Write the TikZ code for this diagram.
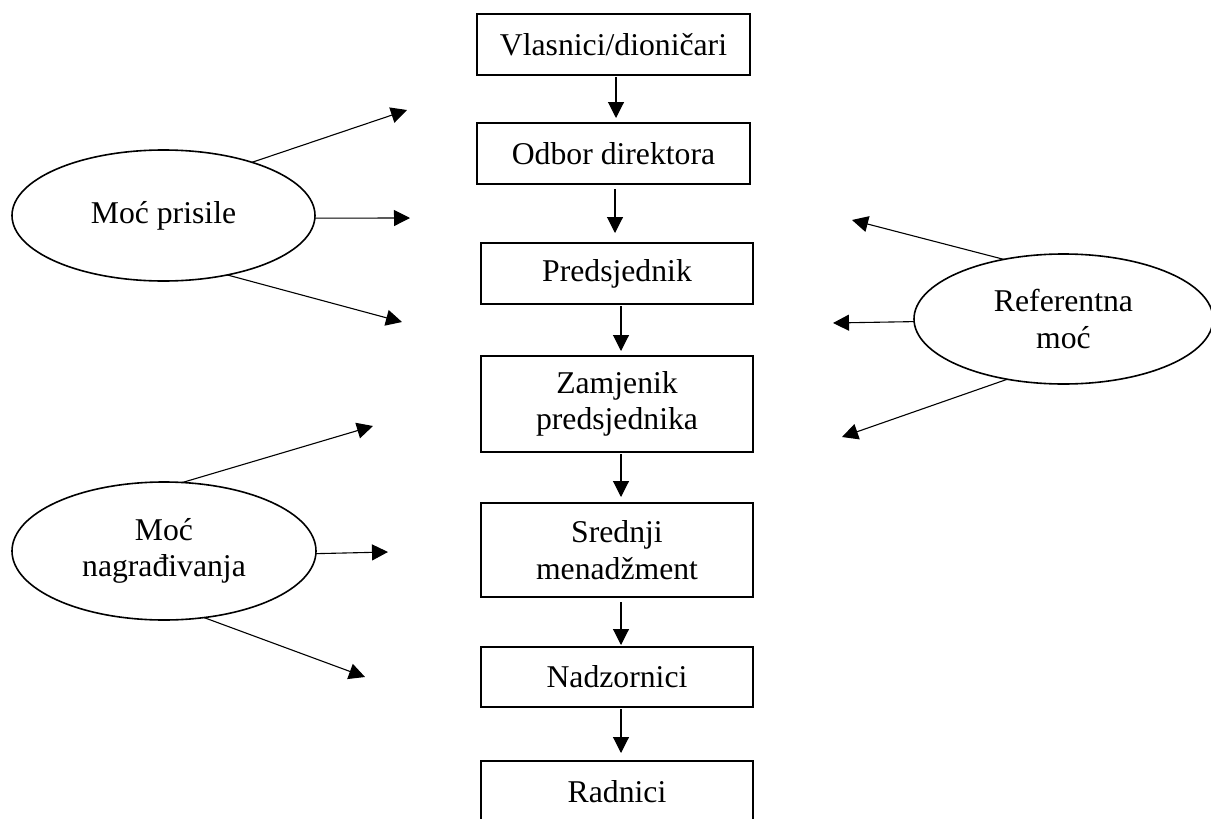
\documentclass[tikz,border=0pt]{standalone}
\usepackage{fontspec}
\setmainfont{Liberation Serif}
\usetikzlibrary{arrows.meta,shapes.geometric}
\tikzset{
  box/.style={draw,line width=1.1pt,rectangle,minimum width=272pt,inner sep=0pt,outer sep=0pt,align=center,
    font=\fontsize{31.7}{36.5}\selectfont},
  oval/.style={draw,line width=1.6pt,ellipse,inner sep=0pt,outer sep=0pt,align=center,
    font=\fontsize{31.7}{36.5}\selectfont},
  arr/.style={line width=1.1pt,-{Triangle[length=16pt,width=16pt]}}
}
\begin{document}
\begin{tikzpicture}[x=1pt,y=-1pt]
\useasboundingbox (0,0) rectangle (1211,819);
\clip (0,0) rectangle (1211,819);
% boxes
\node[box,minimum width=273pt,minimum height=61pt] (b1) at (613.5,44.5) {Vlasnici/dioničari};
\node[box,minimum width=273pt,minimum height=61pt] (b2) at (613.5,153.5) {Odbor direktora};
\node[box,minimum height=61pt] (b3) at (617,273.5) {Predsjednik};
\node[box,minimum height=96pt] (b4) at (617,404) {Zamjenik\\predsjednika};
\node[box,minimum height=94pt] (b5) at (617,550) {Srednji\\menadžment};
\node[box,minimum height=60pt] (b6) at (617,677) {Nadzornici};
\node[box,minimum height=61pt] (b7) at (617,791.5) {Radnici};
% vertical arrows
\draw[arr] ([xshift=2.5pt,yshift=-2pt]b1.south) -- ([xshift=2.5pt,yshift=5pt]b2.north);
\draw[arr] ([xshift=1.5pt,yshift=-5pt]b2.south) -- ([xshift=-2pt,yshift=10pt]b3.north);
\draw[arr] ([xshift=4pt,yshift=-2pt]b3.south) -- ([xshift=4pt,yshift=5pt]b4.north);
\draw[arr] ([xshift=4pt,yshift=-2pt]b4.south) -- ([xshift=4pt,yshift=6pt]b5.north);
\draw[arr] ([xshift=4pt,yshift=-5pt]b5.south) -- ([xshift=4pt,yshift=2pt]b6.north);
\draw[arr] ([xshift=4pt,yshift=-2pt]b6.south) -- ([xshift=4pt,yshift=8pt]b7.north);
% ellipses
\node[oval,minimum width=303pt,minimum height=131pt] (e1) at (163.5,215.5) {Moć prisile};
\node[oval,minimum width=299pt,minimum height=130pt] (e2) at (1063.5,319) {Referentna\\moć};
\node[oval,minimum width=304pt,minimum height=138pt] (e3) at (164,551) {Moć\\nagrađivanja};
% free arrow ends
\coordinate (t1a) at (407,110);
\coordinate (t1b) at (410,218);
\coordinate (t1c) at (402,322);
\coordinate (t2a) at (852,220);
\coordinate (t2b) at (833,323);
\coordinate (t2c) at (842,437);
\coordinate (t3a) at (373,426);
\coordinate (t3b) at (388,552);
\coordinate (t3c) at (365,677);
% ellipse arrows
\draw[arr] (e1.31.6) -- (t1a);
\draw[arr] (e1.-1) -- (t1b);
\draw[arr] (e1.-43.1) -- (t1c);
\draw[arr] (e2.135.7) -- (t2a);
\draw[arr] (e2.181.5) -- (t2b);
\draw[arr] (e2.227.1) -- (t2c);
\draw[arr] (e3.75.6) -- (t3a);
\draw[arr] (e3.-1.1) -- (t3b);
\draw[arr] (e3.-59.4) -- (t3c);
\end{tikzpicture}
\end{document}
